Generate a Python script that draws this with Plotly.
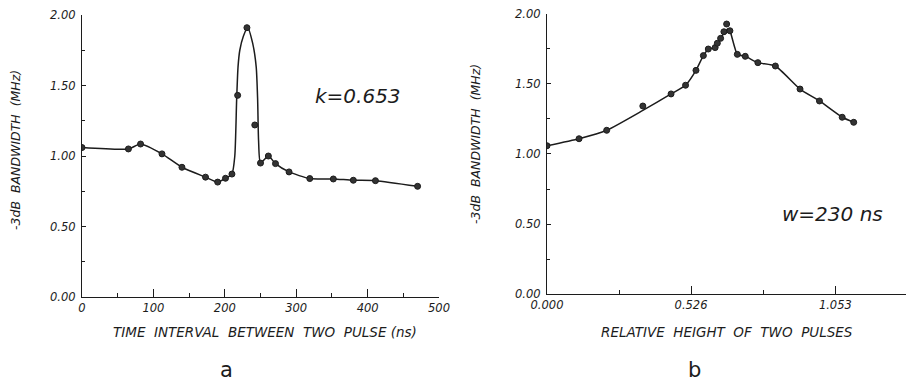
import plotly.graph_objects as go

# ---- Panel a: bandwidth vs time interval (k=0.653)
a_time = [0, 65, 82, 112, 140, 173, 190, 201, 210, 218, 231, 242, 250, 261, 271, 290, 319, 352, 380, 411, 470]
a_bw = [1.06, 1.05, 1.085, 1.015, 0.92, 0.85, 0.815, 0.842, 0.872, 1.43, 1.91, 1.22, 0.95, 1.0, 0.946, 0.887, 0.84, 0.837, 0.828, 0.825, 0.785]
# drawn curve of panel a
a_curve_t = [0, 65, 82, 112, 140, 173, 190, 201, 210, 214, 216.6, 218.5, 221, 226, 232, 239, 244, 246, 247.3, 250, 261, 271, 290, 319, 352, 380, 411, 470]
a_curve_bw = [1.06, 1.05, 1.085, 1.015, 0.92, 0.85, 0.815, 0.842, 0.872, 1.0, 1.40, 1.63, 1.75, 1.85, 1.91, 1.80, 1.63, 1.40, 1.11, 0.95, 1.0, 0.946, 0.887, 0.84, 0.837, 0.828, 0.825, 0.785]

# ---- Panel b: bandwidth vs relative height (w=230 ns)
b_height = [0.0, 0.117, 0.218, 0.350, 0.453, 0.506, 0.544, 0.571, 0.589, 0.614, 0.622, 0.634, 0.646, 0.656, 0.668, 0.695, 0.724, 0.770, 0.834, 0.924, 0.995, 1.078, 1.120]
b_bw = [1.058, 1.108, 1.168, 1.341, 1.427, 1.489, 1.595, 1.70, 1.747, 1.757, 1.788, 1.823, 1.870, 1.925, 1.877, 1.709, 1.695, 1.650, 1.626, 1.462, 1.377, 1.261, 1.225]
b_curve_h = [0.0, 0.117, 0.218, 0.350, 0.453, 0.506, 0.544, 0.571, 0.589, 0.614, 0.622, 0.634, 0.646, 0.660, 0.668, 0.695, 0.724, 0.770, 0.834, 0.924, 0.995, 1.078, 1.120]
b_curve_bw = [1.058, 1.108, 1.168, 1.31, 1.427, 1.489, 1.595, 1.70, 1.747, 1.757, 1.788, 1.823, 1.860, 1.89, 1.877, 1.709, 1.695, 1.650, 1.626, 1.462, 1.377, 1.261, 1.225]

y_ticks = [0, 0.5, 1.0, 1.5, 2.0]
y_tick_text = ["0.00", "0.50", "1.00", "1.50", "2.00"]
y_minor = [0.25, 0.75, 1.25, 1.75]
a_x_ticks = [0, 100, 200, 300, 400, 500]
a_x_minor = [50, 150, 250, 350, 450]
b_x_ticks = [0.0, 0.526, 1.053]
b_x_tick_text = ["0.000", "0.526", "1.053"]
b_x_minor = [0.263, 0.789]

INK = "#1c1c1c"
FONT = "DejaVu Sans"
W, H = 906, 385

def px(x):
    return x / W

def py(y):
    return 1 - y / H

fig = go.Figure()
fig.add_trace(go.Scatter(x=a_curve_t, y=a_curve_bw, mode="lines", line=dict(color=INK, width=1.5, shape="spline", smoothing=0.6),
                         xaxis="x", yaxis="y", hoverinfo="skip"))
fig.add_trace(go.Scatter(x=a_time, y=a_bw, mode="markers", marker=dict(color="#333", size=6, line=dict(color=INK, width=1)),
                         xaxis="x", yaxis="y"))
fig.add_trace(go.Scatter(x=b_curve_h, y=b_curve_bw, mode="lines", line=dict(color=INK, width=1.5, shape="spline", smoothing=0.5),
                         xaxis="x2", yaxis="y2", hoverinfo="skip"))
fig.add_trace(go.Scatter(x=b_height, y=b_bw, mode="markers", marker=dict(color="#333", size=6, line=dict(color=INK, width=1)),
                         xaxis="x2", yaxis="y2"))

tickfont = dict(family=FONT, size=11.5, color=INK, style="italic")
common_axis = dict(showline=True, linecolor=INK, linewidth=1.3, showgrid=False, zeroline=False, automargin=False,
                   ticks="inside", tickcolor=INK, tickwidth=1.2, ticklen=8, tickfont=tickfont)

fig.update_layout(
    width=W, height=H, showlegend=False,
    paper_bgcolor="white", plot_bgcolor="white",
    margin=dict(l=0, r=0, t=0, b=0, autoexpand=False),
    xaxis=dict(common_axis, domain=[px(82), px(439)], range=[0, 500], anchor="y",
               tickvals=a_x_ticks, minor=dict(tickvals=a_x_minor, ticks="inside", ticklen=4, tickcolor=INK)),
    yaxis=dict(common_axis, domain=[py(297), py(15)], range=[0, 2.0], anchor="x",
               tickvals=y_ticks, ticktext=y_tick_text, ticklen=4, ticklabelstandoff=3,
               minor=dict(tickvals=y_minor, ticks="inside", ticklen=3, tickcolor=INK)),
    xaxis2=dict(common_axis, domain=[px(547), 1.0], range=[0, 1.311], anchor="y2",
                tickvals=b_x_ticks, ticktext=b_x_tick_text,
                minor=dict(tickvals=b_x_minor, ticks="inside", ticklen=4, tickcolor=INK)),
    yaxis2=dict(common_axis, domain=[py(294.3), py(13.5)], range=[0, 2.0], anchor="x2",
                tickvals=y_ticks, ticktext=y_tick_text, ticklen=4, ticklabelstandoff=3,
                minor=dict(tickvals=y_minor, ticks="inside", ticklen=3, tickcolor=INK)),
)

ytitle_font = dict(family=FONT, size=12.5, color=INK, style="italic")
xtitle_font = dict(family=FONT, size=13.5, color=INK, style="italic")
ann = [
    dict(x=px(15), y=py(150), text="-3dB  BANDWIDTH  (MHz)", textangle=-90, font=ytitle_font),
    dict(x=px(475), y=py(144), text="-3dB  BANDWIDTH  (MHz)", textangle=-90, font=ytitle_font),
    dict(x=px(265), y=py(332), text="TIME  INTERVAL  BETWEEN  TWO  PULSE (ns)", font=xtitle_font),
    dict(x=px(727), y=py(332), text="RELATIVE  HEIGHT  OF  TWO  PULSES", font=xtitle_font),
    dict(x=px(358), y=py(96), text="k=0.653", font=dict(family=FONT, size=20, color=INK, style="italic")),
    dict(x=px(832), y=py(214), text="w=230 ns", font=dict(family=FONT, size=20, color=INK, style="italic")),
    dict(x=px(226), y=py(370), text="a", font=dict(family=FONT, size=21, color=INK)),
    dict(x=px(694), y=py(370), text="b", font=dict(family=FONT, size=21, color=INK)),
]
for a in ann:
    a.update(xref="paper", yref="paper", showarrow=False, xanchor="center", yanchor="middle")
fig.update_layout(annotations=ann)

fig.write_html("out.html", config={"displayModeBar": False},
               post_script="document.body.style.margin='0';document.body.style.overflow='hidden';")
